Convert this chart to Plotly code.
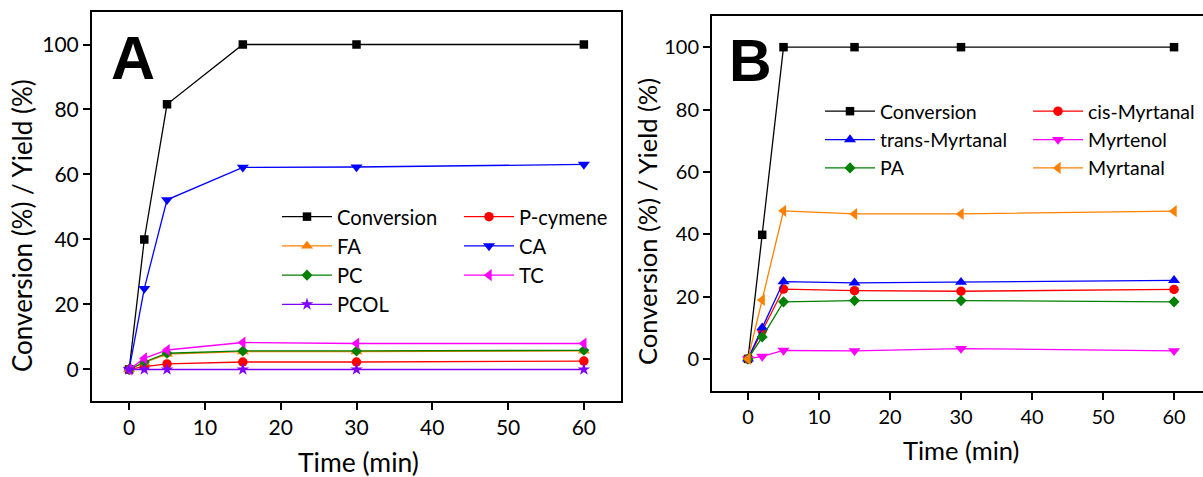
import plotly.graph_objects as go

# ---------------- data ----------------
time_min = [0, 2, 5, 15, 30, 60]

a_conversion = [0, 40.0, 81.6, 100, 100, 100]
a_pcymene = [0, 0.9, 1.7, 2.3, 2.3, 2.6]
a_fa = [0, 2.1, 4.7, 5.5, 5.5, 5.7]
a_ca = [0, 24.9, 52.2, 62.2, 62.3, 63.1]
a_pc = [0, 2.3, 5.0, 5.7, 5.7, 5.9]
a_tc = [0, 3.4, 6.0, 8.3, 8.0, 8.0]
a_pcol = [0, 0, 0, 0, 0, 0]

b_conversion = [0, 39.8, 100, 100, 100, 100]
b_cis = [0, 9.0, 22.4, 21.9, 21.7, 22.3]
b_trans = [0, 10.0, 24.8, 24.4, 24.6, 25.2]
b_myrtenol = [0, 0.8, 2.7, 2.6, 3.3, 2.6]
b_pa = [0, 7.0, 18.3, 18.7, 18.7, 18.3]
b_myrtanal = [0, 18.9, 47.5, 46.5, 46.5, 47.4]

x_ticks = [0, 10, 20, 30, 40, 50, 60]
y_ticks = [0, 20, 40, 60, 80, 100]

FONT = "Lato"
W, H = 1203, 477

fig = go.Figure()

def add(x, y, name, color, symbol, size, xa, ya, legend):
    fig.add_trace(go.Scatter(
        x=x, y=y, name=name, mode="lines+markers",
        line=dict(color=color, width=1.3),
        marker=dict(color=color, symbol=symbol, size=size, line=dict(width=0)),
        xaxis=xa, yaxis=ya, legend=legend,
    ))

# Panel A (plot order as in the original)
add(time_min, a_conversion, "Conversion", "#000000", "square", 8.5, "x", "y", "legend")
add(time_min, a_pcymene, "P-cymene", "#ff0000", "circle", 9.5, "x", "y", "legend2")
add(time_min, a_fa, "FA", "#ff8000", "triangle-up", 10.5, "x", "y", "legend")
add(time_min, a_ca, "CA", "#0000ff", "triangle-down", 10.5, "x", "y", "legend2")
add(time_min, a_pc, "PC", "#008000", "diamond", 8.5, "x", "y", "legend")
add(time_min, a_tc, "TC", "#ff00ff", "triangle-left", 10.5, "x", "y", "legend2")
add(time_min, a_pcol, "PCOL", "#8000ff", "star", 9.5, "x", "y", "legend")

# Panel B
add(time_min, b_conversion, "Conversion", "#000000", "square", 8.5, "x2", "y2", "legend3")
add(time_min, b_cis, "cis-Myrtanal", "#ff0000", "circle", 9.5, "x2", "y2", "legend4")
add(time_min, b_trans, "trans-Myrtanal", "#0000ff", "triangle-up", 10.5, "x2", "y2", "legend3")
add(time_min, b_myrtenol, "Myrtenol", "#ff00ff", "triangle-down", 10.5, "x2", "y2", "legend4")
add(time_min, b_pa, "PA", "#008000", "diamond", 8.5, "x2", "y2", "legend3")
add(time_min, b_myrtanal, "Myrtanal", "#ff8000", "triangle-left", 10.5, "x2", "y2", "legend4")

def px_x(p):
    return p / W

def px_y(p):
    return 1 - p / H

axis_common = dict(
    showline=True, linecolor="#000000", linewidth=2,
    ticks="outside", ticklen=7, tickwidth=1.5, tickcolor="#000000",
    showgrid=False, zeroline=False,
)

fig.update_layout(
    width=W, height=H, autosize=False,
    margin=dict(l=0, r=0, t=0, b=0),
    paper_bgcolor="#ffffff", plot_bgcolor="#ffffff",
    font=dict(family=FONT, color="#000000"),
    showlegend=True,
    xaxis=dict(axis_common, domain=[px_x(92), px_x(621)], range=[-4.9, 64.9],
               tickvals=x_ticks, mirror=True, anchor="y",
               tickfont=dict(size=21, family=FONT)),
    yaxis=dict(axis_common, domain=[px_y(401), px_y(12)], range=[-9.7, 110],
               tickvals=y_ticks, mirror=True, anchor="x",
               tickfont=dict(size=21, family=FONT)),
    xaxis2=dict(axis_common, domain=[px_x(712), 1.0], range=[-5.07, 64.08],
                tickvals=x_ticks, mirror=True, anchor="y2",
                tickfont=dict(size=20, family=FONT)),
    yaxis2=dict(axis_common, domain=[px_y(391), px_y(16)], range=[-10.3, 110],
                tickvals=y_ticks, mirror=False, anchor="x2",
                tickfont=dict(size=20, family=FONT)),
)

leg_common = dict(bgcolor="rgba(0,0,0,0)", borderwidth=0, orientation="v",
                  xanchor="left", yanchor="top", xref="paper", yref="paper",
                  itemwidth=50, tracegroupgap=0, itemclick=False)

fig.update_layout(
    legend=dict(leg_common, x=px_x(277), y=px_y(197), font=dict(size=20.2, family=FONT)),
    legend2=dict(leg_common, x=px_x(459), y=px_y(197), font=dict(size=20.2, family=FONT)),
    legend3=dict(leg_common, x=px_x(820), y=px_y(92), font=dict(size=19.5, family=FONT)),
    legend4=dict(leg_common, x=px_x(1028), y=px_y(92), font=dict(size=19.5, family=FONT)),
)

def note(text, cx, cy, size, family=FONT, angle=0):
    fig.add_annotation(text=text, x=px_x(cx), y=px_y(cy), xref="paper", yref="paper",
                       xanchor="center", yanchor="middle", textangle=angle,
                       showarrow=False, font=dict(size=size, family=family, color="#000000"))

# panel letters
note("<b>A</b>", 133, 58, 61, "Liberation Sans")
note("<b>B</b>", 750, 61, 59, "Liberation Sans")
# axis titles
note("Time (min)", 358, 462, 26.5)
note("Conversion (%) / Yield (%)", 22, 226, 26, angle=-90)
note("Time (min)", 961, 450, 25.5)
note("Conversion (%) / Yield (%)", 647, 222, 25.5, angle=-90)

fig.write_html("out.html", config={"displayModeBar": False},
               post_script="document.body.style.margin='0';document.body.style.overflow='hidden';")
